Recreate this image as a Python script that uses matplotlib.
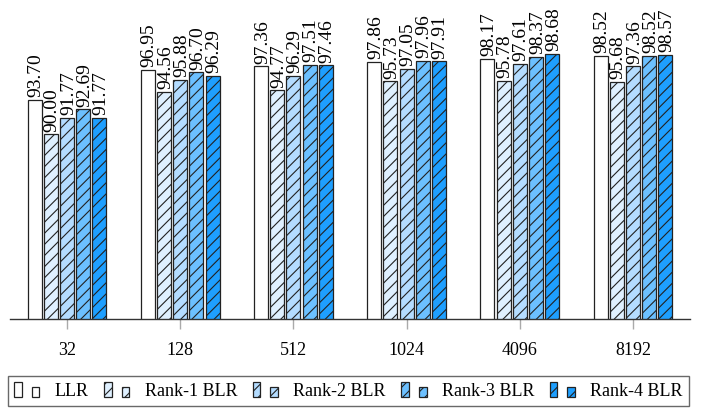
import matplotlib
matplotlib.use("Agg")
import matplotlib.pyplot as plt
from matplotlib.patches import Rectangle
from matplotlib.legend_handler import HandlerBase
import numpy as np

plt.rcParams["font.family"] = ["Liberation Serif", "DejaVu Serif"]
plt.rcParams["hatch.linewidth"] = 0.8
plt.rcParams["hatch.color"] = "black"

categories = ["32", "128", "512", "1024", "4096", "8192"]
series_names = ["LLR", "Rank-1 BLR", "Rank-2 BLR", "Rank-3 BLR", "Rank-4 BLR"]
llr = [93.70, 96.95, 97.36, 97.86, 98.17, 98.52]
rank1 = [90.00, 94.56, 94.77, 95.73, 95.78, 95.68]
rank2 = [91.77, 95.88, 96.29, 97.05, 97.61, 97.36]
rank3 = [92.69, 96.70, 97.51, 97.96, 98.37, 98.52]
rank4 = [91.77, 96.29, 97.46, 97.91, 98.68, 98.57]
series = [llr, rank1, rank2, rank3, rank4]

face_colors = ["#ffffff", "#dff0ff", "#b4dcff", "#6cc0ff", "#1e9fff"]
hatches = [None, "///", "///", "///", "///"]


class TwoBarHandler(HandlerBase):
    """Legend key drawn as two small bars of unequal height."""

    def create_artists(self, legend, orig_handle, xdescent, ydescent,
                       width, height, fontsize, trans):
        bw = width * 0.3
        gap = width - 2 * bw
        kw = dict(facecolor=orig_handle.get_facecolor(),
                  edgecolor=orig_handle.get_edgecolor(),
                  hatch=orig_handle.get_hatch(),
                  linewidth=orig_handle.get_linewidth(),
                  transform=trans)
        r1 = Rectangle((-xdescent, -ydescent - 0.1 * height), bw, height * 1.15, **kw)
        r2 = Rectangle((-xdescent + bw + gap, -ydescent - 0.1 * height), bw,
                       height * 0.8, **kw)
        return [r1, r2]


fig = plt.figure(figsize=(7.05, 4.17), dpi=100)
W, H = 705, 417
ax = fig.add_axes([10.4 / W, (H - 319) / H, 679.2 / W, 277 / H])

x = np.arange(len(categories))
step = 0.143
width = 0.124
handles = []
for i, (vals, name) in enumerate(zip(series, series_names)):
    pos = x + (i - 2) * step
    bars = ax.bar(pos, vals, width, bottom=0, color=face_colors[i],
                  edgecolor="#222222", linewidth=0.9, hatch=hatches[i],
                  label=name, zorder=2)
    handles.append(bars[0])
    for px, v in zip(pos, vals):
        ax.annotate(f"{v:.2f}", xy=(px, v), xytext=(1.0, 2),
                    textcoords="offset points", rotation=90,
                    ha="center", va="bottom", fontsize=14,
                    annotation_clip=False)

ax.set_xlim(-0.5, len(categories) - 0.5)
ax.set_ylim(70, 100)
ax.set_xticks(x)
ax.set_xticklabels(categories, fontsize=13)
ax.set_yticks([])
for s in ["top", "right", "left"]:
    ax.spines[s].set_visible(False)
ax.spines["bottom"].set_color("#333333")
ax.spines["bottom"].set_linewidth(1.0)
ax.tick_params(axis="x", direction="out", length=7.5, width=1.0,
               color="#aaaaaa", pad=9)

leg = fig.legend(handles, series_names, loc="center",
                 bbox_to_anchor=(348.5 / W, 1 - 391 / H), ncol=5,
                 fontsize=13, frameon=True, fancybox=False,
                 handler_map={h: TwoBarHandler() for h in handles},
                 handlelength=1.4, handleheight=0.75, handletextpad=0.85,
                 columnspacing=0.85, borderpad=0.35, borderaxespad=0)
leg.get_frame().set_edgecolor("#444444")
leg.get_frame().set_linewidth(1.0)

fig.savefig("out.png", dpi=100)
